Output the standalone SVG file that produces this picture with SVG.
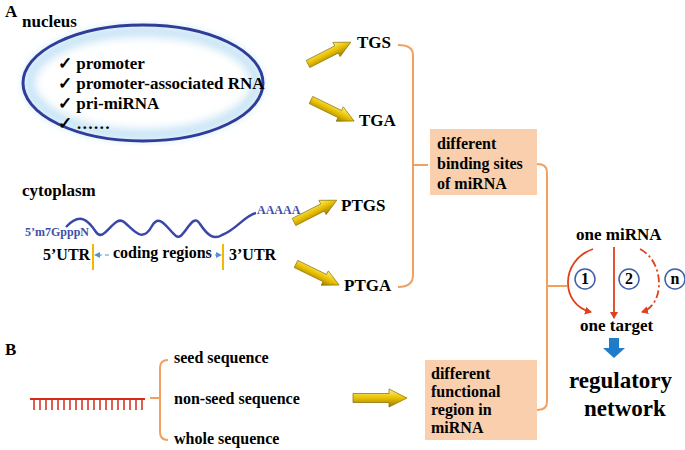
<svg xmlns="http://www.w3.org/2000/svg" width="685" height="450" viewBox="0 0 685 450" font-family="'Liberation Serif', 'DejaVu Serif', serif" font-weight="bold">
<defs>
<linearGradient id="ag" x1="0" y1="0" x2="0" y2="1"><stop offset="0" stop-color="#fff27a"/><stop offset="0.5" stop-color="#e8c000"/><stop offset="1" stop-color="#9a7a00"/></linearGradient>
<symbol id="fat" viewBox="0 0 60 20" overflow="visible"><path d="M0,5 L40,5 L40,0 L60,10 L40,20 L40,15 L0,15 Z" fill="url(#ag)" stroke="#8a6d00" stroke-width="0.8"/></symbol>
<marker id="rh" markerWidth="8" markerHeight="8" refX="6" refY="4" orient="auto" markerUnits="userSpaceOnUse"><path d="M0,0 L7,4 L0,8 Z" fill="#e0401c"/></marker>
<marker id="bh" markerWidth="6" markerHeight="6" refX="5" refY="3" orient="auto" markerUnits="userSpaceOnUse"><path d="M0,0 L6,3 L0,6 Z" fill="#5a8fd0"/></marker>
<filter id="bl" x="-10%" y="-10%" width="120%" height="120%"><feGaussianBlur stdDeviation="5"/></filter>
</defs>
<style>
text{font-family:"Liberation Serif","DejaVu Serif",serif;font-weight:bold;fill:#000}
.b{font-size:17px}.s{font-size:16px}
.bl{fill:#3f4fa8;font-size:12px}
.br{fill:none;stroke:#f0a060;stroke-width:2}
.box{fill:#f9cfae}
.c{fill:#fff;stroke:#3f5fa8;stroke-width:1.5}
</style>
<text x="5" y="17" class="b">A</text>
<text x="5" y="355" class="b">B</text>
<g id="nucleus">
<text x="22" y="27" class="b">nucleus</text>
<ellipse cx="143" cy="83" rx="120" ry="58" fill="#ffffff"/>
<ellipse cx="143" cy="83" rx="114" ry="52" fill="none" stroke="#bfe0f4" stroke-width="10" filter="url(#bl)"/>
<ellipse cx="143" cy="83" rx="120" ry="58" fill="none" stroke="#2e3d9a" stroke-width="3"/>
<text x="58" y="69" class="b">✓ promoter</text>
<text x="58" y="89" class="b">✓ promoter-associated RNA</text>
<text x="58" y="109" class="b">✓ pri-miRNA</text>
<text x="58" y="129" class="b">✓ ……</text>
</g>
<g id="cytoplasm">
<text x="22" y="196" class="b">cytoplasm</text>
<path d="M66,227 C80,212 88,220 96,232 C104,244 114,214 124,222 C134,230 142,244 152,226 C160,212 168,230 176,236 C184,242 192,210 200,224 C208,236 214,240 222,235 C236,230 244,216 256,213" fill="none" stroke="#3a46a8" stroke-width="2.5"/>
<text x="25" y="236" class="bl">5’m7GpppN</text>
<text x="257" y="214" class="bl">AAAAA</text>
<text x="43" y="260" class="s">5’UTR</text>
<text x="229" y="260" class="s">3’UTR</text>
<text x="113" y="258" class="s">coding regions</text>
<line x1="93" y1="244" x2="93" y2="270" stroke="#f5b800" stroke-width="2"/>
<line x1="223" y1="244" x2="223" y2="270" stroke="#f5b800" stroke-width="2"/>
<line x1="109" y1="255" x2="95" y2="255" stroke="#5a8fd0" stroke-width="1.2" stroke-dasharray="4,3" marker-end="url(#bh)"/>
<line x1="208" y1="255" x2="221" y2="255" stroke="#5a8fd0" stroke-width="1.2" stroke-dasharray="4,3" marker-end="url(#bh)"/>
</g>
<g id="targets">
<text x="357" y="48" class="b">TGS</text>
<text x="359" y="126" class="b">TGA</text>
<text x="341" y="211" class="b">PTGS</text>
<text x="344" y="291" class="b">PTGA</text>
</g>
<g id="fat-arrows">
<use href="#fat" x="0" y="0" width="48" height="16" transform="translate(308,64) rotate(-27) translate(0,-8)"/>
<use href="#fat" x="0" y="0" width="48" height="16" transform="translate(311,100) rotate(26) translate(0,-8)"/>
<use href="#fat" x="0" y="0" width="48" height="16" transform="translate(294,222) rotate(-27) translate(0,-8)"/>
<use href="#fat" x="0" y="0" width="48" height="16" transform="translate(296,264) rotate(26) translate(0,-8)"/>
<use href="#fat" x="0" y="0" width="70" height="18" transform="translate(345,398) translate(0,-9)"/>
</g>
<g id="box1"><rect x="430" y="129" width="107" height="66" class="box"/>
<text x="437" y="149" class="s">different</text><text x="437" y="169" class="s">binding sites</text><text x="437" y="189" class="s">of miRNA</text></g>
<g id="box2"><rect x="425" y="360" width="112" height="80" class="box"/>
<text x="431" y="379" class="s">different</text><text x="431" y="397" class="s">functional</text><text x="431" y="415" class="s">region in</text><text x="431" y="433" class="s">miRNA</text></g>
<g id="brackets">
<path class="br" d="M398,45 Q413,45 413,55 L413,275 Q413,287 398,287 M413,165 L428,165"/>
<path class="br" d="M537,164 Q547,164 547,172 L547,402 Q547,410 537,410 M547,286 L567,286"/>
<path class="br" d="M168,360 Q160,360 160,368 L160,432 Q160,440 168,440 M150,398 L160,398"/>
</g>
<g id="seq">
<text x="174" y="363" class="s">seed sequence</text>
<text x="174" y="404" class="s">non-seed sequence</text>
<text x="174" y="444" class="s">whole sequence</text>
<line x1="30" y1="399" x2="145" y2="399" stroke="#d42a1a" stroke-width="2"/>
<path d="M34,399v11M40,399v11M46,399v11M52,399v11M58,399v11M64,399v11M70,399v11M76,399v11M82,399v11M88,399v11M94,399v11M100,399v11M106,399v11M112,399v11M118,399v11M124,399v11M130,399v11M136,399v11M142,399v11" stroke="#d42a1a" stroke-width="1.5"/>
</g>
<g id="network">
<text x="576" y="240" class="b">one miRNA</text>
<text x="580" y="331" class="b">one target</text>
<path d="M593,249 C560,260 560,305 591,312" fill="none" stroke="#e0401c" stroke-width="1.8" marker-end="url(#rh)"/>
<line x1="614" y1="247" x2="614" y2="318" stroke="#e0401c" stroke-width="1.8" marker-end="url(#rh)"/>
<path d="M640,249 C665,262 665,305 642,312" fill="none" stroke="#e0401c" stroke-width="1.8" stroke-dasharray="8,3,2,3" marker-end="url(#rh)"/>
<circle cx="585" cy="279" r="10" class="c"/><text x="585" y="284" class="s" text-anchor="middle">1</text>
<circle cx="629" cy="279" r="10" class="c"/><text x="629" y="284" class="s" text-anchor="middle">2</text>
<circle cx="675" cy="279" r="10" class="c"/><text x="675" y="284" class="s" text-anchor="middle">n</text>
<path d="M609,338 h10 v10 h6 l-11,10 l-11,-10 h6 Z" fill="#1f7cc8"/>
<text x="569" y="388" font-size="23">regulatory</text>
<text x="584" y="416" font-size="23">network</text>
</g>
</svg>
